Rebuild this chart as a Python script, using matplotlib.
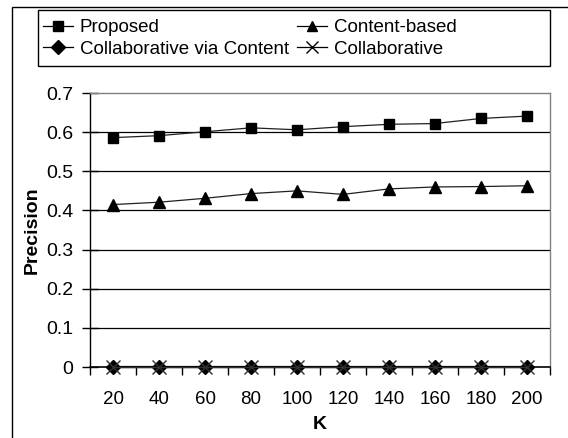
import matplotlib
matplotlib.use("Agg")
import matplotlib.pyplot as plt
from matplotlib.lines import Line2D
from matplotlib.patches import Rectangle
from matplotlib.ticker import FixedLocator, NullFormatter, FixedFormatter

plt.rcParams['font.family'] = ['Liberation Sans', 'DejaVu Sans']

k_values = [20, 40, 60, 80, 100, 120, 140, 160, 180, 200]
proposed = [0.586, 0.591, 0.601, 0.611, 0.606, 0.614, 0.620, 0.622, 0.635, 0.641]
content_based = [0.415, 0.421, 0.431, 0.443, 0.450, 0.441, 0.455, 0.460, 0.461, 0.463]
collab_via_content = [0, 0, 0, 0, 0, 0, 0, 0, 0, 0]
collaborative = [0, 0, 0, 0, 0, 0, 0, 0, 0, 0]
y_ticks = [0, 0.1, 0.2, 0.3, 0.4, 0.5, 0.6, 0.7]
y_tick_labels = ["0", "0.1", "0.2", "0.3", "0.4", "0.5", "0.6", "0.7"]

W, H = 568, 438
fig = plt.figure(figsize=(W / 100, H / 100), dpi=100)

# outer chart frame (left and top edges visible)
fig.add_artist(Rectangle((11.5 / W, -0.2), 1.2, 1.2 - 7 / H, transform=fig.transFigure,
                         fill=False, edgecolor='black', linewidth=1.0))

ax = fig.add_axes([90 / W, 1 - 367 / H, 460 / W, 274 / H])
ax.set_xlim(10, 210)
ax.set_ylim(0, 0.7)

for y in y_ticks[1:-1]:
    ax.axhline(y, color='black', linewidth=0.9, zorder=1)

ax.plot(k_values, proposed, color='#202020', linewidth=0.9, marker='s', markersize=7.5,
        markerfacecolor='black', markeredgecolor='black', zorder=3)
ax.plot(k_values, content_based, color='#202020', linewidth=0.9, marker='^', markersize=8.5,
        markerfacecolor='black', markeredgecolor='black', zorder=3)
ax.plot(k_values, collab_via_content, color='black', linewidth=1.6, marker='D', markersize=7,
        zorder=3, clip_on=False)
ax.plot(k_values, collaborative, color='#303030', linewidth=1.0, marker='x', markersize=10,
        markeredgewidth=1.0, zorder=4, clip_on=False)

for side in ['top', 'right']:
    ax.spines[side].set_color('#808080')
    ax.spines[side].set_linewidth(1.0)
ax.spines['left'].set_color('black')
ax.spines['bottom'].set_color('black')
ax.spines['left'].set_linewidth(1.0)
ax.spines['bottom'].set_linewidth(1.2)

ax.yaxis.set_major_locator(FixedLocator(y_ticks))
ax.yaxis.set_major_formatter(FixedFormatter(y_tick_labels))
ax.tick_params(axis='y', direction='inout', length=12, width=1, labelsize=14, pad=6)

boundaries = [10 + 20 * i for i in range(11)]
ax.xaxis.set_major_locator(FixedLocator(boundaries))
ax.xaxis.set_major_formatter(NullFormatter())
ax.xaxis.set_minor_locator(FixedLocator(k_values))
ax.xaxis.set_minor_formatter(FixedFormatter([str(k) for k in k_values]))
ax.tick_params(axis='x', which='major', direction='out', length=6, width=1)
ax.tick_params(axis='x', which='minor', length=0, labelsize=13.5, pad=17)

ax.set_ylabel('Precision', fontsize=14, fontweight='bold', labelpad=4)
ax.set_xlabel('K', fontsize=14, fontweight='bold', labelpad=6)

# legend: entries read row by row
handles = [
    Line2D([], [], color='black', linewidth=0.9, marker='s', markersize=6.5),
    Line2D([], [], color='black', linewidth=0.9, marker='D', markersize=7),
    Line2D([], [], color='black', linewidth=0.9, marker='^', markersize=7.5),
    Line2D([], [], color='black', linewidth=0.9, marker='x', markersize=9),
]
labels = ['Proposed', 'Collaborative via Content', 'Content-based', 'Collaborative']
leg = fig.legend(handles, labels, ncol=2, loc='upper left',
                 bbox_to_anchor=(43 / W, 1 - 19 / H),
                 fontsize=13.5, frameon=False, handlelength=1.6, handletextpad=0.35,
                 borderpad=0, labelspacing=0.25, columnspacing=0.45, borderaxespad=0)
fig.add_artist(Rectangle((38 / W, 1 - 66 / H), (550 - 38) / W, 56 / H,
                         transform=fig.transFigure, fill=False, edgecolor='black',
                         linewidth=1.0))

fig.savefig('out.png', dpi=100)
